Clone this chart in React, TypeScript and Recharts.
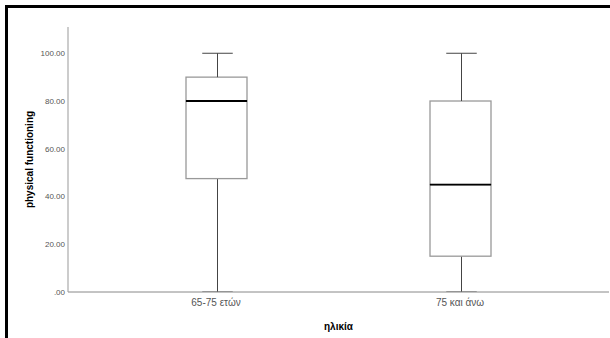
import React from "react";
import { ComposedChart, Bar, XAxis, YAxis } from "recharts";

// boxplot stats
const categories = ["65-75 ετών", "75 και άνω"];
const minValues = [0, 0];
const q1Values = [47.5, 15];
const medianValues = [80, 45];
const q3Values = [90, 80];
const maxValues = [100, 100];
const yTicks = [0, 20, 40, 60, 80, 100];

const data = categories.map((name, i) => ({
  name,
  base: minValues[i],
  lowWhisker: q1Values[i] - minValues[i],
  lowBox: medianValues[i] - q1Values[i],
  highBox: q3Values[i] - medianValues[i],
  highWhisker: maxValues[i] - q3Values[i],
}));

const WHISKER = "#444";
const BOX = "#999";

const LowWhisker = (props: any) => {
  const { x, y, width, height } = props;
  const cx = Math.round(x + width / 2) + 0.5;
  const bottom = y + height;
  return (
    <g>
      <line x1={cx} x2={cx} y1={y} y2={bottom} stroke={WHISKER} strokeWidth={1} />
      <line x1={cx - width / 4} x2={cx + width / 4} y1={bottom} y2={bottom} stroke={WHISKER} strokeWidth={1} />
    </g>
  );
};

const HighWhisker = (props: any) => {
  const { x, y, width, height } = props;
  const cx = Math.round(x + width / 2) + 0.5;
  return (
    <g>
      <line x1={cx} x2={cx} y1={y} y2={y + height} stroke={WHISKER} strokeWidth={1} />
      <line x1={cx - width / 4} x2={cx + width / 4} y1={y} y2={y} stroke={WHISKER} strokeWidth={1} />
    </g>
  );
};

const LowBox = (props: any) => {
  const { x, y, width, height } = props;
  return <rect x={x} y={y} width={width} height={height} fill="#fff" stroke={BOX} strokeWidth={1.3} />;
};

const HighBox = (props: any) => {
  const { x, y, width, height } = props;
  return (
    <g>
      <rect x={x} y={y} width={width} height={height} fill="#fff" stroke={BOX} strokeWidth={1.3} />
      <line x1={x} x2={x + width} y1={y + height} y2={y + height} stroke="#000" strokeWidth={1.8} />
    </g>
  );
};

export default function App() {
  return (
    <div style={{ position: "absolute", left: 0, top: 0, width: 610, height: 338, background: "#fff", overflow: "hidden", fontFamily: "'Liberation Sans', Arial, sans-serif" }}>
      <ComposedChart width={610} height={338} data={data} margin={{ top: 27, right: 1, left: 0, bottom: 0 }}>
        <XAxis
          dataKey="name"
          height={46}
          padding={{ left: 26, right: 27 }}
          tickLine={false}
          tickSize={0}
          tickMargin={7}
          axisLine={{ stroke: "#888" }}
          tick={{ fontSize: 10, fill: "#555" }}
          label={{ value: "ηλικία", position: "insideBottom", offset: 8, style: { fontSize: 10, fontWeight: "bold", fill: "#000" } }}
        />
        <YAxis
          width={68}
          domain={[0, 111]}
          ticks={yTicks}
          interval={0}
          allowDataOverflow
          tickLine={false}
          tickSize={0}
          tickMargin={3}
          axisLine={{ stroke: "#999" }}
          tick={{ fontSize: 8, fill: "#555" }}
          tickFormatter={(v: number) => (v === 0 ? ".00" : v.toFixed(2))}
          label={{ value: "physical functioning", angle: -90, position: "insideLeft", offset: 29, style: { textAnchor: "middle", fontSize: 10, fontWeight: "bold", fill: "#000" } }}
        />
        <Bar dataKey="base" stackId="a" barSize={61} fill="transparent" isAnimationActive={false} />
        <Bar dataKey="lowWhisker" stackId="a" barSize={61} shape={LowWhisker} isAnimationActive={false} />
        <Bar dataKey="lowBox" stackId="a" barSize={61} shape={LowBox} isAnimationActive={false} />
        <Bar dataKey="highBox" stackId="a" barSize={61} shape={HighBox} isAnimationActive={false} />
        <Bar dataKey="highWhisker" stackId="a" barSize={61} shape={HighWhisker} isAnimationActive={false} />
      </ComposedChart>
      <div style={{ position: "absolute", left: 5, top: 5, width: 640, height: 360, borderTop: "3px solid #000", borderLeft: "3px solid #000", pointerEvents: "none" }} />
    </div>
  );
}
